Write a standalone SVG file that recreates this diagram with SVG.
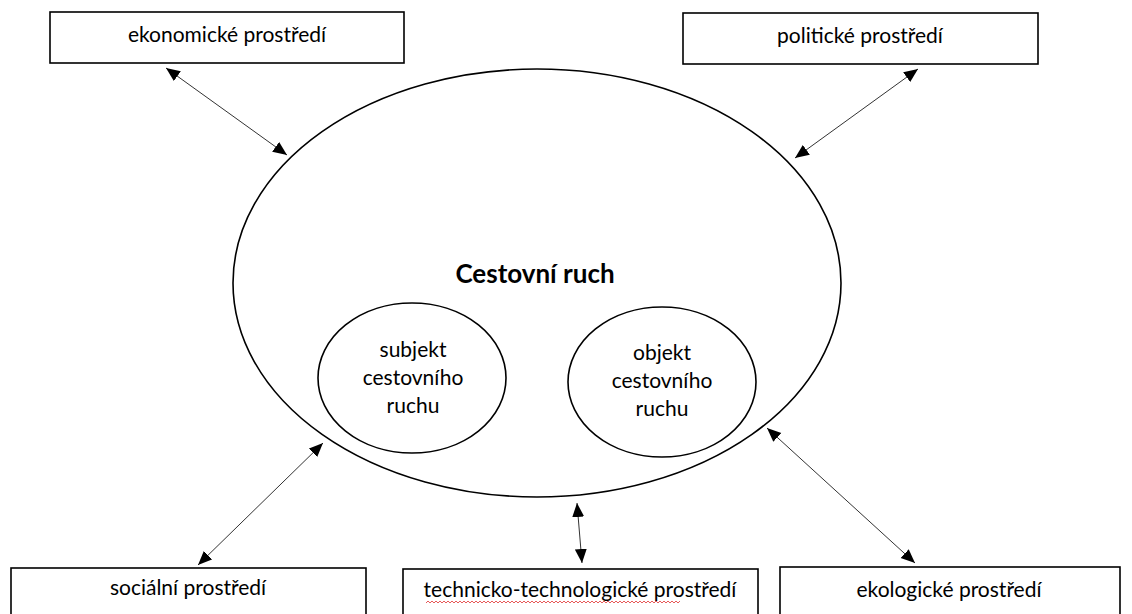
<svg xmlns="http://www.w3.org/2000/svg" width="1132" height="614" viewBox="0 0 1132 614">
<defs>
<style>
.box{fill:#fff;stroke:#000;stroke-width:1.6}
.ell{fill:none;stroke:#000;stroke-width:1.6}
.lbl{font-family:Lato,"Liberation Sans",sans-serif;font-size:21px;fill:#000;text-anchor:middle}
.title{font-family:Lato,"Liberation Sans",sans-serif;font-size:26px;font-weight:bold;fill:#000;text-anchor:middle}
.conn{stroke:#333;stroke-width:1;fill:none;marker-start:url(#ah);marker-end:url(#ah)}
</style>
<marker id="ah" markerUnits="userSpaceOnUse" markerWidth="15" markerHeight="13" refX="14" refY="6" orient="auto-start-reverse" viewBox="0 0 15 12">
<path d="M0,0 L14,6 L0,12 z" fill="#000"/>
</marker>
</defs>
<rect width="1132" height="614" fill="#fff"/>

<g id="cestovni-ruch">
<ellipse class="ell" cx="537" cy="283" rx="304" ry="214"/>
<text class="title" x="535" y="283">Cestovní ruch</text>
</g>

<g id="subjekt">
<ellipse class="ell" cx="412" cy="378" rx="94" ry="75"/>
<text class="lbl" x="413" y="357">subjekt</text>
<text class="lbl" x="413" y="385">cestovního</text>
<text class="lbl" x="413" y="413">ruchu</text>
</g>

<g id="objekt">
<ellipse class="ell" cx="662" cy="382" rx="94" ry="75"/>
<text class="lbl" x="662" y="360">objekt</text>
<text class="lbl" x="662" y="388">cestovního</text>
<text class="lbl" x="662" y="416">ruchu</text>
</g>

<g id="ekonomicke">
<rect class="box" x="50" y="12" width="354" height="51"/>
<text class="lbl" x="227" y="42">ekonomické prostředí</text>
</g>

<g id="politicke">
<rect class="box" x="683" y="13" width="355" height="51"/>
<text class="lbl" x="860" y="43">politické prostředí</text>
</g>

<g id="socialni">
<rect class="box" x="11" y="568" width="355" height="60"/>
<text class="lbl" x="188" y="595">sociální prostředí</text>
</g>

<g id="technicko">
<rect class="box" x="403" y="569" width="355" height="60"/>
<text class="lbl" x="580" y="597">technicko-technologické prostředí</text>
<path d="M426,603 l2,-2 l2,2 l2,-2 l2,2 l2,-2 l2,2 l2,-2 l2,2 l2,-2 l2,2 l2,-2 l2,2 l2,-2 l2,2 l2,-2 l2,2 l2,-2 l2,2 l2,-2 l2,2 l2,-2 l2,2 l2,-2 l2,2 l2,-2 l2,2 l2,-2 l2,2 l2,-2 l2,2 l2,-2 l2,2 l2,-2 l2,2 l2,-2 l2,2 l2,-2 l2,2 l2,-2 l2,2 l2,-2 l2,2 l2,-2 l2,2 l2,-2 l2,2 l2,-2 l2,2 l2,-2 l2,2 l2,-2 l2,2 l2,-2 l2,2 l2,-2 l2,2 l2,-2 l2,2 l2,-2 l2,2 l2,-2 l2,2 l2,-2 l2,2 l2,-2 l2,2 l2,-2 l2,2 l2,-2 l2,2 l2,-2 l2,2 l2,-2 l2,2 l2,-2 l2,2 l2,-2 l2,2 l2,-2 l2,2 l2,-2 l2,2 l2,-2 l2,2 l2,-2 l2,2 l2,-2 l2,2 l2,-2 l2,2 l2,-2 l2,2 l2,-2 l2,2 l2,-2 l2,2 l2,-2 l2,2 l2,-2 l2,2 l2,-2 l2,2 l2,-2 l2,2 l2,-2 l2,2 l2,-2 l2,2 l2,-2 l2,2 l2,-2 l2,2 l2,-2 l2,2 l2,-2 l2,2 l2,-2 l2,2 l2,-2 l2,2 l2,-2 l2,2 l2,-2 l2,2 l2,-2 l2,2 l2,-2" fill="none" stroke="#e03030" stroke-width="0.8"/>
</g>

<g id="ekologicke">
<rect class="box" x="780" y="567" width="340" height="60"/>
<text class="lbl" x="949" y="597">ekologické prostředí</text>
</g>

<g id="connectors">
<line class="conn" x1="166" y1="68" x2="287" y2="155"/>
<line class="conn" x1="918" y1="69" x2="795" y2="158"/>
<line class="conn" x1="323" y1="443" x2="198" y2="565"/>
<line class="conn" x1="577" y1="503" x2="582" y2="563"/>
<line class="conn" x1="767" y1="428" x2="915" y2="563"/>
</g>
</svg>
